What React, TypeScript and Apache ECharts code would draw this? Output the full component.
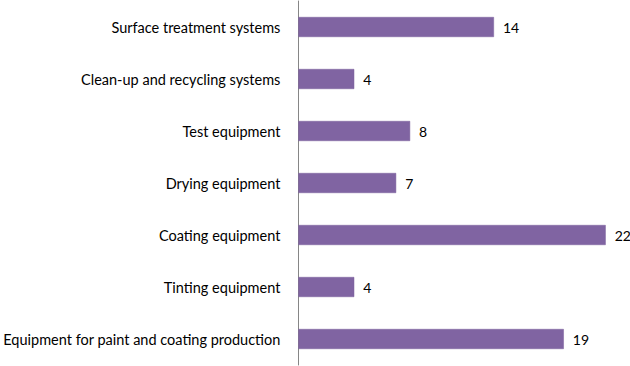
import React, { useEffect, useRef } from "react";
import * as echarts from "echarts";

const categories = [
  "Surface treatment systems",
  "Clean-up and recycling systems",
  "Test equipment",
  "Drying equipment",
  "Coating equipment",
  "Tinting equipment",
  "Equipment for paint and coating production",
];
const values = [14, 4, 8, 7, 22, 4, 19];

export default function App() {
  const ref = useRef<HTMLDivElement>(null);
  useEffect(() => {
    if (!ref.current) return;
    const chart = echarts.init(ref.current, undefined, { renderer: "svg" });
    const font = "Lato, 'Open Sans', sans-serif";
    chart.setOption({
      animation: false,
      grid: { left: 295.5, right: 24.3, top: 1, bottom: 1, containLabel: false },
      xAxis: {
        type: "value",
        min: 0,
        max: 22,
        show: false,
      },
      yAxis: {
        type: "category",
        data: categories,
        inverse: true,
        axisLine: { show: true, lineStyle: { color: "#868686", width: 1 } },
        axisTick: { show: false },
        axisLabel: { color: "#000", fontSize: 14.5, fontFamily: font, margin: 18 },
      },
      series: [
        {
          type: "bar",
          data: values,
          barWidth: 20,
          itemStyle: { color: "#8064A2", borderColor: "#7A5E9C", borderWidth: 0.5 },
          label: {
            show: true,
            position: "right",
            distance: 9,
            color: "#000",
            fontSize: 14,
            fontFamily: font,
          },
        },
      ],
    });
    return () => chart.dispose();
  }, []);
  return (
    <div
      ref={ref}
      style={{ position: "fixed", left: 0, top: 0, width: 630, height: 366, background: "#fff" }}
    />
  );
}
